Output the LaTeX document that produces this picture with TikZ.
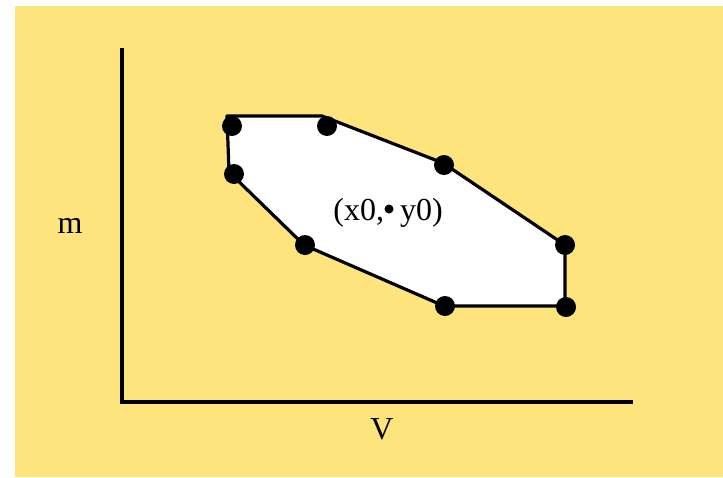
\documentclass[tikz,border=0pt]{standalone}
\usepackage{fontspec}
\setmainfont{Liberation Serif}
\definecolor{bgyellow}{RGB}{253,228,125}
\begin{document}
\begin{tikzpicture}[x=1pt,y=-1pt,
  vdot/.style={circle,fill=black,inner sep=0pt,minimum size=20pt},
  axisline/.style={line width=3.8pt},
  polyline/.style={line width=3.2pt,line join=round,fill=white},
  lbl/.style={inner sep=0pt,font=\fontsize{32}{38}\selectfont}]
\useasboundingbox (0,0) rectangle (723,477);
\fill[white] (0,0) rectangle (723,477);
\fill[bgyellow] (15,6) rectangle (723,477);
% axes
\coordinate (ytop) at (122,48);
\coordinate (orig) at (122,402);
\coordinate (xend) at (633,402);
\draw[axisline,line join=miter] (ytop) -- (orig) -- (xend);
% polygon corners
\coordinate (p1) at (227,116);
\coordinate (p2) at (322,116);
\coordinate (p3) at (443,163);
\coordinate (p4) at (565,245);
\coordinate (p5) at (565,306);
\coordinate (p6) at (444,306);
\coordinate (p7) at (304,245);
\coordinate (p8) at (229,172);
\draw[polyline] (p1) -- (p2) -- (p3) -- (p4) -- (p5) -- (p6) -- (p7) -- (p8) -- cycle;
% vertex dots
\node[vdot] (a) at (232,126) {};
\node[vdot] (b) at (327,126) {};
\node[vdot] (c) at (444,165) {};
\node[vdot] (d) at (565,245) {};
\node[vdot] (e) at (566,307) {};
\node[vdot] (f) at (445,306) {};
\node[vdot] (g) at (305,245) {};
\node[vdot] (h) at (234,174) {};
% labels
\node[lbl] (mlab) at (70,226) {m};
\node[lbl] (vlab) at (382,429) {V};
\node[lbl] (ptlab) at (388,213) {(x0,\ \ y0)};
\node[circle,fill=black,inner sep=0pt,minimum size=9pt] (pt) at (389,209) {};
\end{tikzpicture}
\end{document}
